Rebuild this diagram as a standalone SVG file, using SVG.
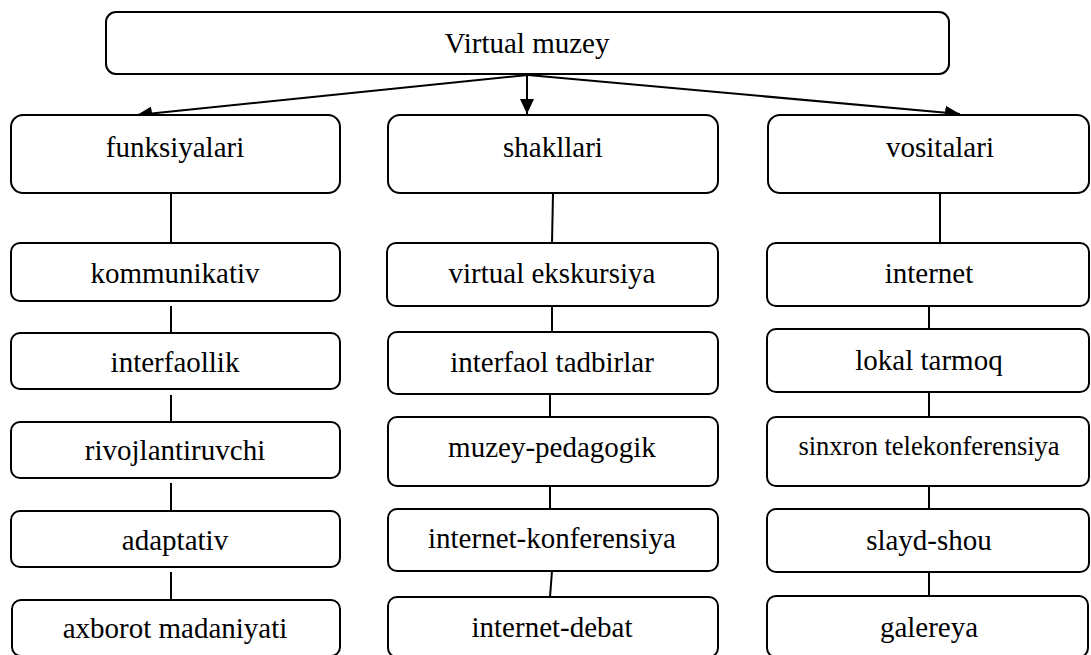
<svg xmlns="http://www.w3.org/2000/svg" width="1091" height="655" viewBox="0 0 1091 655">
<style>
.box{fill:#fff;stroke:#000;stroke-width:2}
.t{font-family:"Liberation Serif","Times New Roman",serif;font-size:29px;fill:#000;text-anchor:middle}
.s{font-size:26.5px}
.ln{stroke:#000;stroke-width:2;fill:none}
</style>
<defs>
<marker id="ah" markerUnits="userSpaceOnUse" markerWidth="16" markerHeight="14" refX="15" refY="7" orient="auto">
<path d="M0,0 L15,7 L0,14 Z" fill="#000"/>
</marker>
</defs>
<rect width="1091" height="655" fill="#fff"/>
<g id="connectors">
<line class="ln" x1="528" y1="75" x2="137" y2="115" marker-end="url(#ah)"/>
<line class="ln" x1="527" y1="75" x2="527" y2="114" marker-end="url(#ah)"/>
<line class="ln" x1="528" y1="75" x2="960" y2="114" marker-end="url(#ah)"/>
<line class="ln" x1="171" y1="193" x2="171" y2="243"/>
<line class="ln" x1="171" y1="306" x2="171" y2="333"/>
<line class="ln" x1="171" y1="395" x2="171" y2="422"/>
<line class="ln" x1="171" y1="483" x2="171" y2="511"/>
<line class="ln" x1="171" y1="572" x2="171" y2="600"/>
<line class="ln" x1="553" y1="193" x2="552" y2="243"/>
<line class="ln" x1="552" y1="306" x2="552" y2="332"/>
<line class="ln" x1="550" y1="394" x2="550" y2="417"/>
<line class="ln" x1="550" y1="486" x2="550" y2="509"/>
<line class="ln" x1="552" y1="571" x2="550" y2="597"/>
<line class="ln" x1="940" y1="193" x2="940" y2="243"/>
<line class="ln" x1="929" y1="306" x2="929" y2="329"/>
<line class="ln" x1="929" y1="392" x2="929" y2="417"/>
<line class="ln" x1="929" y1="486" x2="929" y2="509"/>
<line class="ln" x1="929" y1="572" x2="929" y2="596"/>
</g>
<g id="root"><rect class="box" x="106" y="12" width="843" height="62" rx="10"/><text class="t" x="527" y="53">Virtual muzey</text></g>
<g id="funksiyalari"><rect class="box" x="11" y="115" width="329" height="78" rx="12"/><text class="t" x="175" y="157">funksiyalari</text></g>
<g id="shakllari"><rect class="box" x="388" y="115" width="330" height="78" rx="12"/><text class="t" x="553" y="157">shakllari</text></g>
<g id="vositalari"><rect class="box" x="768" y="115" width="321" height="78" rx="12"/><text class="t" x="940" y="157">vositalari</text></g>
<g id="kommunikativ"><rect class="box" x="11" y="243" width="329" height="58" rx="9"/><text class="t" x="175" y="283">kommunikativ</text></g>
<g id="interfaollik"><rect class="box" x="11" y="333" width="329" height="56" rx="9"/><text class="t" x="175" y="372">interfaollik</text></g>
<g id="rivojlantiruvchi"><rect class="box" x="11" y="422" width="329" height="56" rx="9"/><text class="t" x="175" y="460">rivojlantiruvchi</text></g>
<g id="adaptativ"><rect class="box" x="11" y="511" width="329" height="56" rx="9"/><text class="t" x="175" y="550">adaptativ</text></g>
<g id="axborot"><rect class="box" x="12" y="600" width="328" height="56" rx="9"/><text class="t" x="175" y="638">axborot madaniyati</text></g>
<g id="virtual-ekskursiya"><rect class="box" x="387" y="243" width="331" height="63" rx="9"/><text class="t" x="552" y="283">virtual ekskursiya</text></g>
<g id="interfaol-tadbirlar"><rect class="box" x="388" y="332" width="330" height="62" rx="9"/><text class="t" x="552" y="372">interfaol tadbirlar</text></g>
<g id="muzey-pedagogik"><rect class="box" x="388" y="417" width="330" height="69" rx="9"/><text class="t" x="552" y="457">muzey-pedagogik</text></g>
<g id="internet-konferensiya"><rect class="box" x="388" y="509" width="330" height="62" rx="9"/><text class="t" x="552" y="548">internet-konferensiya</text></g>
<g id="internet-debat"><rect class="box" x="388" y="597" width="330" height="60" rx="9"/><text class="t" x="552" y="637">internet-debat</text></g>
<g id="internet"><rect class="box" x="767" y="243" width="322" height="63" rx="9"/><text class="t" x="929" y="283">internet</text></g>
<g id="lokal-tarmoq"><rect class="box" x="767" y="329" width="322" height="63" rx="9"/><text class="t" x="929" y="370">lokal tarmoq</text></g>
<g id="sinxron"><rect class="box" x="767" y="417" width="322" height="69" rx="9"/><text class="t s" x="929" y="455">sinxron telekonferensiya</text></g>
<g id="slayd-shou"><rect class="box" x="767" y="509" width="322" height="63" rx="9"/><text class="t" x="929" y="550">slayd-shou</text></g>
<g id="galereya"><rect class="box" x="767" y="596" width="321" height="61" rx="9"/><text class="t" x="929" y="637">galereya</text></g>
</svg>
